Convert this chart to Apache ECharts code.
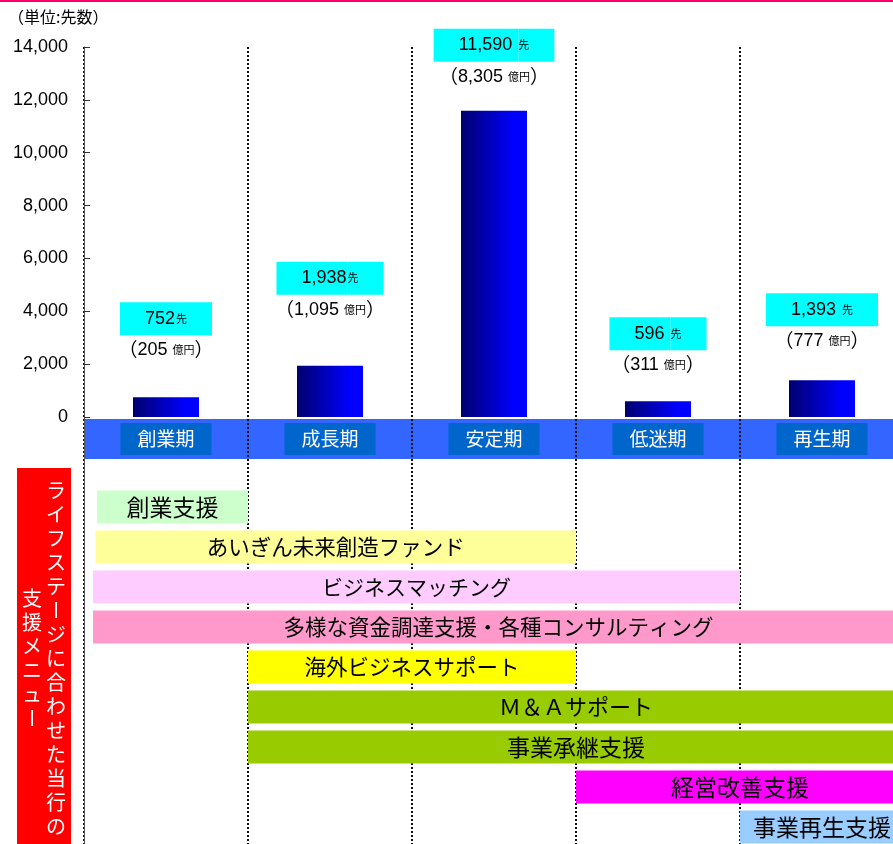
<!DOCTYPE html>
<html><head><meta charset="utf-8">
<script src="https://cdn.jsdelivr.net/npm/echarts@6/dist/echarts.min.js"></script>
<style>html,body{margin:0;padding:0;background:#fff;overflow:hidden}#c{width:912px;height:844px}</style>
</head><body><div id="c"></div>
<script>
// ---- data ----
const stages = ['創業期', '成長期', '安定期', '低迷期', '再生期'];
const counts = [752, 1938, 11590, 596, 1393];          // 先
const amounts = [205, 1095, 8305, 311, 777];           // 億円
const yMin = 0, yMax = 14000, yStep = 2000;
const menuNames = ['創業支援', 'あいぎん未来創造ファンド', 'ビジネスマッチング',
  '多様な資金調達支援・各種コンサルティング', '海外ビジネスサポート', 'Ｍ＆Ａサポート',
  '事業承継支援', '経営改善支援', '事業再生支援'];
const menuStart = [0.08, 0.07, 0.055, 0.055, 1, 1, 1, 3, 4];
const menuEnd = [1, 3, 4, 5, 3, 5, 5, 5, 5];
const stageBoundaries = [1, 2, 3, 4];
const unitText = '（単位:先数）';
const sideTextRight = 'ライフステージに合わせた当行の';
const sideTextLeft = '支援メニュー';

// ---- styles ----
const JP = "'Noto Sans CJK JP', sans-serif";
const NUM = "'Liberation Sans', Arial, 'Noto Sans CJK JP', sans-serif";
const menuColors = ['#CCFFCC', '#FFFF99', '#FFCCFF', '#FF99CC', '#FFFF00', '#99CC00', '#99CC00', '#FF00FF', '#99CCFF'];
const menuFont = [23, 21.5, 21, 21.5, 21.5, 22, 23, 23, 23];
const countSep = ['', '', ' ', ' ', ' '];
const labelGap = [32, 41, 19, 21, 24];
const fmt = v => v.toLocaleString('en-US');
const dotted = { color: '#111', width: 2, type: [2, 2] };

const chart = echarts.init(document.getElementById('c'));
const grad = new echarts.graphic.LinearGradient(0, 0, 1, 0, [
  { offset: 0, color: '#00006E' }, { offset: 0.8, color: '#0000FF' }, { offset: 1, color: '#0000FF' }]);

function vertCol(str, x, y0, pitch) {
  return str.split('').map((ch, i) => ({
    type: 'text', x: x, y: y0 + i * pitch + pitch / 2,
    rotation: ch === 'ー' ? -Math.PI / 2 : 0,
    style: { text: ch, fill: '#fff', font: "20px 'Noto Sans CJK JP'", align: 'center', verticalAlign: 'middle' }
  }));
}

const blanks = ['', ' '];
const option = {
  animation: false,
  grid: [
    { left: 84, top: 47, width: 820, height: 370, outerBoundsMode: 'none' },
    { left: 84, top: 407, width: 820, height: 440, outerBoundsMode: 'none' }
  ],
  xAxis: [
    { gridIndex: 0, type: 'category', data: stages, offset: 22,
      axisLine: { show: false, onZero: false },
      axisTick: { show: false },
      axisLabel: { margin: 0, verticalAlign: 'middle', color: '#fff', fontSize: 19, fontFamily: JP,
        backgroundColor: '#0066CC', padding: [7, 17, 6, 17] },
      splitLine: { show: true, lineStyle: dotted } },
    { gridIndex: 1, type: 'value', min: 0, max: 5, interval: 1,
      axisLine: { show: false }, axisTick: { show: false }, axisLabel: { show: false },
      splitLine: { show: true, lineStyle: dotted } }
  ],
  yAxis: [
    { gridIndex: 0, type: 'value', min: yMin, max: yMax, interval: yStep,
      axisLine: { show: true, lineStyle: { color: '#555', width: 1 } },
      axisTick: { show: true, inside: true, length: 6, lineStyle: { color: '#333' } },
      axisLabel: { margin: 16, color: '#000', fontSize: 18, fontFamily: NUM, formatter: v => fmt(v) },
      splitLine: { show: false } },
    { gridIndex: 1, type: 'category', inverse: true, data: blanks.concat(menuNames),
      axisLine: { show: true, lineStyle: { color: '#555', width: 1 } },
      axisTick: { show: false }, axisLabel: { show: false }, splitLine: { show: false } }
  ],
  series: [
    { type: 'bar', xAxisIndex: 0, yAxisIndex: 0, barWidth: 66, itemStyle: { color: grad },
      data: counts.map((v, i) => ({ value: v, label: { distance: labelGap[i] } })),
      label: { show: true, position: 'top',
        formatter: p => `{n|${fmt(counts[p.dataIndex])}${countSep[p.dataIndex]}}{s|先}\n{p|（}{q|${fmt(amounts[p.dataIndex])} }{u|億円}{p|）}`,
        rich: {
          n: { fontSize: 18, fontFamily: NUM, color: '#000', backgroundColor: '#00FFFF', height: 33, lineHeight: 33, padding: [0, 1, 0, 25] },
          s: { fontSize: 11, fontFamily: JP, color: '#000', backgroundColor: '#00FFFF', height: 33, lineHeight: 33, padding: [0, 25, 0, 0] },
          p: { fontSize: 19, fontFamily: JP, color: '#000', lineHeight: 30 },
          q: { fontSize: 18, fontFamily: NUM, color: '#000', lineHeight: 30 },
          u: { fontSize: 11, fontFamily: JP, color: '#000', lineHeight: 30 }
        } } },
    { type: 'bar', xAxisIndex: 1, yAxisIndex: 1, stack: 'm', barWidth: 33, silent: true,
      itemStyle: { color: 'rgba(0,0,0,0)' },
      data: [null, null].concat(menuStart) },
    { type: 'bar', xAxisIndex: 1, yAxisIndex: 1, stack: 'm', barWidth: 33,
      data: [null, null].concat(menuNames.map((n, i) => ({
        value: menuEnd[i] - menuStart[i], itemStyle: { color: menuColors[i] }, label: { fontSize: menuFont[i] } }))),
      label: { show: true, position: 'inside', formatter: p => p.name, color: '#000', fontSize: 21, fontFamily: JP } }
  ]
};
chart.setOption(option);

// band under the category labels, with the stage boundary lines through it
const bandLines = stageBoundaries.map(k => {
  const x = Math.round(chart.convertToPixel({ xAxisIndex: 1 }, k));
  return { type: 'line', shape: { x1: x, y1: 419, x2: x, y2: 459 },
    style: { stroke: '#111', lineWidth: 2, lineDash: [2, 2] } };
});
chart.setOption({
  graphic: {
    elements: [
      { type: 'rect', shape: { x: 84, y: 419, width: 828, height: 40 }, style: { fill: '#3366FF' } }
    ].concat(bandLines).concat([
      { type: 'rect', shape: { x: 0, y: 0, width: 912, height: 2 }, style: { fill: '#FF0066' } },
      { type: 'text', x: 8, y: 17, style: { text: unitText, fill: '#000', font: "16px 'Noto Sans CJK JP'", verticalAlign: 'middle' } },
      { type: 'rect', shape: { x: 17, y: 468, width: 54, height: 380 }, style: { fill: '#FF0000' } }
    ]).concat(vertCol(sideTextRight, 56, 478, 24)).concat(vertCol(sideTextLeft, 32, 586, 24))
  }
});
</script></body></html>
